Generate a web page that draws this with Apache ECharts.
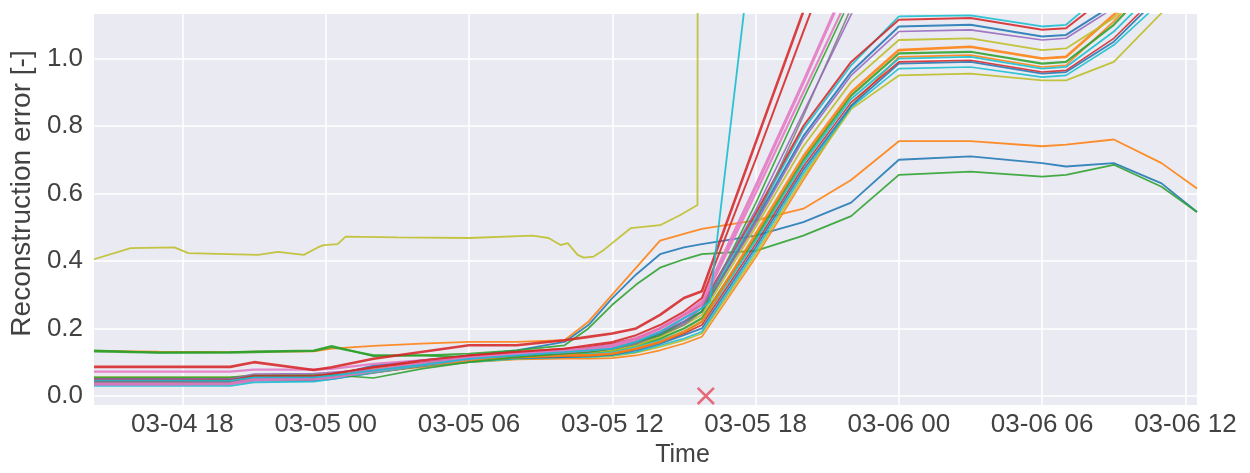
<!DOCTYPE html>
<html>
<head>
<meta charset="utf-8">
<script src="https://cdn.jsdelivr.net/npm/echarts@6/dist/echarts.min.js"></script>
<style>html,body{margin:0;padding:0;background:#fff;}#c{width:1250px;height:473px;}</style>
</head>
<body>
<div id="c"></div>
<script>
// ---- data (time labels "MM-DD HH:mm", year assumed 2020) ----
const T = ['03-04 14:18','03-04 17:00','03-04 20:00','03-04 21:00','03-04 23:30','03-05 00:15','03-05 02:00','03-05 04:00','03-05 06:00','03-05 08:00','03-05 10:00','03-05 11:00','03-05 12:00','03-05 13:00','03-05 14:00','03-05 15:00','03-05 15:45','03-05 18:00','03-05 20:00','03-05 22:00','03-06 00:00','03-06 03:00','03-06 06:00','03-06 07:00','03-06 09:00','03-06 11:00','03-06 12:29'];

// x tick labels
const xTicks = ['03-04 18','03-05 00','03-05 06','03-05 12','03-05 18','03-06 00','03-06 06','03-06 12'];
// y tick labels
const yTicks = [0.0, 0.2, 0.4, 0.6, 0.8, 1.0];

// early risers (stay low at the end)
const riserOrange = [0.133,0.131,0.130,0.131,0.132,0.140,0.148,0.155,0.160,0.160,0.165,0.220,0.300,0.380,0.460,0.480,0.495,0.520,0.555,0.640,0.755,0.755,0.740,0.745,0.760,0.690,0.615];
const riserBlue   = [0.045,0.045,0.045,0.055,0.055,0.060,0.090,0.105,0.120,0.135,0.160,0.210,0.290,0.360,0.420,0.440,0.450,0.475,0.515,0.573,0.700,0.710,0.690,0.680,0.690,0.630,0.545];
const riserGreen  = [0.135,0.128,0.130,0.132,0.135,0.148,0.118,0.120,0.125,0.135,0.150,0.200,0.270,0.330,0.380,0.405,0.420,0.430,0.475,0.533,0.655,0.665,0.650,0.655,0.685,0.620,0.545];

// steep risers (leave the view before 03-06 00)
const steepRed1   = [0.086,0.086,0.086,0.100,0.077,0.085,0.110,0.130,0.150,0.150,0.165,0.175,0.185,0.200,0.240,0.290,0.310,0.750,1.140,1.500,1.800,1.800,1.800,1.800,1.800,1.800,1.800];
const steepRed2   = [0.045,0.045,0.046,0.058,0.058,0.066,0.085,0.105,0.120,0.130,0.140,0.150,0.160,0.180,0.210,0.250,0.290,0.700,1.080,1.450,1.800,1.800,1.800,1.800,1.800,1.800,1.800];
const steepPink1  = [0.035,0.035,0.036,0.048,0.050,0.055,0.075,0.095,0.110,0.125,0.135,0.140,0.150,0.170,0.200,0.240,0.280,0.620,0.930,1.250,1.600,1.600,1.600,1.600,1.600,1.600,1.600];
const steepPink2  = [0.072,0.072,0.072,0.078,0.078,0.080,0.095,0.105,0.115,0.125,0.130,0.135,0.145,0.165,0.190,0.230,0.270,0.600,0.900,1.200,1.500,1.500,1.500,1.500,1.500,1.500,1.500];
const steepPurple = [0.050,0.050,0.050,0.065,0.066,0.070,0.078,0.092,0.110,0.120,0.130,0.135,0.140,0.160,0.190,0.220,0.260,0.550,0.840,1.130,1.400,1.400,1.400,1.400,1.400,1.400,1.400];
const steepGreen  = [0.055,0.055,0.055,0.060,0.062,0.062,0.053,0.080,0.100,0.115,0.125,0.130,0.140,0.160,0.180,0.220,0.250,0.570,0.880,1.180,1.500,1.500,1.500,1.500,1.500,1.500,1.500];
const steepGray   = [0.040,0.040,0.040,0.052,0.052,0.058,0.075,0.095,0.115,0.125,0.130,0.135,0.140,0.155,0.180,0.210,0.250,0.520,0.830,1.150,1.450,1.450,1.450,1.450,1.450,1.450,1.450];

// plateau group (flat band around 03-06 00..06, leave view after 03-06 07)
const platRed     = [0.050,0.050,0.050,0.060,0.060,0.065,0.085,0.100,0.120,0.130,0.140,0.145,0.155,0.170,0.200,0.240,0.270,0.540,0.800,0.990,1.115,1.120,1.085,1.090,1.200,1.350,1.450];
const platCyan1   = [0.030,0.030,0.030,0.040,0.042,0.050,0.070,0.090,0.110,0.125,0.135,0.140,0.150,0.165,0.190,0.230,0.260,0.530,0.790,0.980,1.125,1.128,1.095,1.100,1.220,1.370,1.470];
const platBlue1   = [0.040,0.040,0.040,0.050,0.050,0.055,0.075,0.095,0.115,0.125,0.130,0.135,0.145,0.160,0.185,0.220,0.250,0.520,0.770,0.960,1.095,1.100,1.065,1.070,1.160,1.300,1.400];
const platPurple  = [0.045,0.045,0.045,0.055,0.055,0.060,0.075,0.090,0.110,0.120,0.125,0.130,0.140,0.155,0.180,0.215,0.250,0.510,0.760,0.950,1.080,1.085,1.055,1.060,1.150,1.290,1.390];
const platOlive1  = [0.050,0.050,0.050,0.058,0.058,0.062,0.080,0.095,0.110,0.120,0.125,0.130,0.135,0.150,0.175,0.210,0.240,0.500,0.740,0.930,1.055,1.060,1.025,1.030,1.120,1.260,1.350];
const platOrange1 = [0.038,0.038,0.038,0.050,0.050,0.055,0.070,0.090,0.105,0.115,0.120,0.120,0.125,0.140,0.160,0.190,0.220,0.480,0.710,0.900,1.025,1.035,1.000,1.005,1.130,1.270,1.370];
const platGreen   = [0.132,0.128,0.128,0.130,0.133,0.145,0.120,0.120,0.115,0.120,0.125,0.130,0.135,0.150,0.170,0.200,0.230,0.470,0.700,0.890,1.015,1.020,0.985,0.990,1.100,1.250,1.350];
const platCyan2   = [0.042,0.042,0.042,0.052,0.052,0.058,0.072,0.090,0.105,0.115,0.120,0.125,0.130,0.145,0.165,0.190,0.220,0.460,0.690,0.880,1.000,1.005,0.970,0.975,1.080,1.220,1.320];
const platRed2    = [0.048,0.048,0.048,0.058,0.058,0.062,0.078,0.095,0.110,0.115,0.118,0.120,0.125,0.140,0.160,0.185,0.210,0.450,0.680,0.870,0.990,0.995,0.960,0.965,1.060,1.200,1.300];
const platBlue2   = [0.035,0.035,0.035,0.045,0.045,0.050,0.068,0.088,0.105,0.112,0.115,0.118,0.122,0.135,0.155,0.180,0.200,0.440,0.670,0.860,0.985,0.990,0.955,0.960,1.050,1.190,1.290];
const platCyan3   = [0.038,0.038,0.038,0.048,0.048,0.053,0.070,0.088,0.100,0.110,0.115,0.115,0.120,0.130,0.150,0.170,0.190,0.430,0.660,0.855,0.970,0.975,0.945,0.950,1.040,1.170,1.270];
const platOlive2  = [0.055,0.055,0.055,0.062,0.062,0.065,0.075,0.090,0.100,0.110,0.115,0.115,0.118,0.128,0.145,0.165,0.185,0.420,0.650,0.850,0.950,0.955,0.935,0.935,0.990,1.135,1.270];
const platOrange2 = [0.045,0.045,0.045,0.055,0.055,0.058,0.070,0.085,0.100,0.108,0.110,0.110,0.112,0.120,0.135,0.155,0.175,0.410,0.640,0.860,1.005,1.010,0.975,0.980,1.110,1.260,1.360];

// cyan line with the very steep rise (own time points after the knee)
const cyanSpikeTimes  = T.slice(0, 17).concat(['03-05 16:05','03-05 17:30','03-05 18:30']);
const cyanSpikeValues = [0.045,0.045,0.045,0.055,0.055,0.060,0.075,0.092,0.110,0.120,0.130,0.135,0.140,0.160,0.190,0.230,0.260,0.280,1.130,1.730];

// anomalous olive line (jumps off the chart at about 03-05 15:36)
const anomalyTimes  = ['03-04 14:18','03-04 15:50','03-04 17:40','03-04 18:15','03-04 21:10','03-04 22:00','03-04 23:05','03-04 23:40','03-04 23:55','03-05 00:30','03-05 00:50','03-05 03:00','03-05 06:00','03-05 08:40','03-05 09:20','03-05 09:50','03-05 10:08','03-05 10:33','03-05 10:48','03-05 11:13','03-05 11:38','03-05 12:46','03-05 14:00','03-05 14:51','03-05 15:34','03-05 15:36'];
const anomalyValues = [0.405,0.438,0.440,0.423,0.418,0.427,0.418,0.440,0.447,0.450,0.472,0.470,0.468,0.475,0.468,0.447,0.453,0.418,0.410,0.413,0.432,0.497,0.506,0.536,0.566,3.500];

// marked event
const eventTime = '03-05 15:55';
const eventValue = 0.0;

const xMinLabel = '03-04 14:18';
const xMaxLabel = '03-06 12:29';

// ---- helpers: x position is hours since 03-05 00:00 ----
const ORIGIN = new Date(2020, 2, 5, 0, 0).getTime();
function hrs(s) {
  const m = s.match(/(\d+)-(\d+) (\d+)(?::(\d+))?/);
  return (new Date(2020, +m[1] - 1, +m[2], +m[3], m[4] ? +m[4] : 0).getTime() - ORIGIN) / 3600000;
}
function pad(n) { return (n < 10 ? '0' : '') + n; }
function fmtHrs(h) { const d = new Date(ORIGIN + Math.round(h * 3600000)); return pad(d.getMonth() + 1) + '-' + pad(d.getDate()) + ' ' + pad(d.getHours()); }
function pairs(times, vals) { return times.map((t, i) => [hrs(t), vals[i]]); }

const C = {blue:'#1f77b4', orange:'#ff7f0e', green:'#2ca02c', red:'#d62728', purple:'#9467bd', brown:'#8c564b', pink:'#e377c2', gray:'#7f7f7f', olive:'#bcbd22', cyan:'#17becf'};

const lines = [
  [riserBlue, C.blue, 1.8], [riserOrange, C.orange, 1.8], [riserGreen, C.green, 1.8],
  [platOrange2, C.orange, 1.6], [platOlive2, C.olive, 1.8], [platCyan3, C.cyan, 1.6],
  [platBlue2, C.blue, 1.8], [platRed2, C.red, 1.6], [platCyan2, C.cyan, 1.8],
  [platGreen, C.green, 2.2], [platOrange1, C.orange, 2.6], [platOlive1, C.olive, 1.8],
  [platPurple, C.purple, 1.6], [platBlue1, C.blue, 2.0], [platCyan1, C.cyan, 1.8], [platRed, C.red, 2.0],
  [steepGray, C.gray, 1.6], [steepGreen, C.green, 1.6], [steepPurple, C.purple, 1.6],
  [steepPink2, C.pink, 2.2], [steepPink1, C.pink, 3.2], [steepRed2, C.red, 2.0], [steepRed1, C.red, 2.6]
];

const series = lines.map(([vals, color, w]) => ({
  type: 'line', data: pairs(T, vals), showSymbol: false, symbol: 'none',
  lineStyle: {color: color, width: w, opacity: 0.88}, itemStyle: {color: color},
  clip: true, animation: false, silent: true
}));
series.push({type:'line', data: pairs(cyanSpikeTimes, cyanSpikeValues), showSymbol:false, symbol:'none',
  lineStyle:{color:C.cyan, width:1.8, opacity:0.9}, clip:true, animation:false, silent:true});
series.push({type:'line', data: pairs(anomalyTimes, anomalyValues), showSymbol:false, symbol:'none',
  lineStyle:{color:C.olive, width:1.8, opacity:0.85}, clip:true, animation:false, silent:true});
series.push({type:'scatter', data: [[hrs(eventTime), eventValue]], z: 5,
  symbol: 'path://M0,1 L1,0 L10,9 L9,10 Z M9,0 L10,1 L1,10 L0,9 Z', symbolSize: 18,
  itemStyle: {color: '#e24a5e'}, animation:false, silent:true});

const xTickValues = xTicks.map(hrs);

const chart = echarts.init(document.getElementById('c'), null, {renderer: 'canvas'});
chart.setOption({
  animation: false,
  backgroundColor: '#ffffff',
  grid: {left: 93, right: 53, top: 14, bottom: 68, show: true, backgroundColor: '#eaeaf2', borderWidth: 0, containLabel: false},
  xAxis: {
    type: 'value', min: hrs(xMinLabel), max: hrs(xMaxLabel),
    name: 'Time', nameLocation: 'middle', nameGap: 33,
    nameTextStyle: {fontFamily: 'Liberation Sans', fontSize: 25, color: '#424242', padding: [0, 0, 0, 74]},
    axisLine: {show: false},
    axisTick: {show: false, customValues: xTickValues},
    axisLabel: {customValues: xTickValues, margin: 7, fontFamily: 'Liberation Sans', fontSize: 26, color: '#424242', hideOverlap: false,
      formatter: fmtHrs},
    splitLine: {show: true, lineStyle: {color: '#ffffff', width: 1.5}}
  },
  yAxis: {
    type: 'value', min: -0.027, max: 1.132,
    name: 'Reconstruction error [-]', nameLocation: 'middle', nameGap: 58, nameRotate: 90,
    nameTextStyle: {fontFamily: 'Liberation Sans', fontSize: 28, color: '#424242', padding: [0, 0, 0, 32]},
    axisLine: {show: false},
    axisTick: {show: false, customValues: yTicks},
    axisLabel: {customValues: yTicks, margin: 11, fontFamily: 'Liberation Sans', fontSize: 26, color: '#424242',
      formatter: function (v) { return v.toFixed(1); }},
    splitLine: {show: true, lineStyle: {color: '#ffffff', width: 1.5}}
  },
  series: series
});
</script>
</body>
</html>
